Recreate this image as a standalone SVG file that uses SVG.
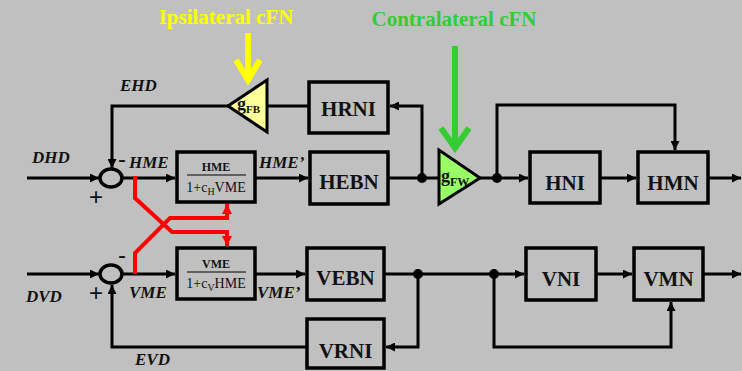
<svg xmlns="http://www.w3.org/2000/svg" width="742" height="371" viewBox="0 0 742 371">
<defs>
<marker id="ah" viewBox="0 0 10 10" refX="10" refY="5" markerWidth="10" markerHeight="9" markerUnits="userSpaceOnUse" orient="auto"><path d="M0,0 L10,5 L0,10 z" fill="#000"/></marker>
<marker id="ahr" viewBox="0 0 10 10" refX="10" refY="5" markerWidth="10" markerHeight="10" markerUnits="userSpaceOnUse" orient="auto"><path d="M0,0 L10,5 L0,10 z" fill="#FF0000"/></marker>
<style>
.bx{fill:#C0C0C0;stroke:#000;stroke-width:3.5}
.bt{font-family:"Liberation Serif",serif;font-weight:bold;font-size:21px;text-anchor:middle;fill:#111}
.lb{font-family:"Liberation Serif",serif;font-weight:bold;font-style:italic;font-size:17px;fill:#111}
.num{font-family:"Liberation Serif",serif;font-weight:bold;font-size:12px;text-anchor:middle;fill:#111}
.den{font-family:"Liberation Serif",serif;font-size:14px;text-anchor:middle;fill:#111}
.sg{font-family:"Liberation Sans",sans-serif;font-size:24px;text-anchor:middle;fill:#111}
.ln{fill:none;stroke:#000;stroke-width:3}
.rd{fill:none;stroke:#FF0000;stroke-width:4}
.ttl{font-family:"Liberation Serif",serif;font-weight:bold;font-size:21px}
</style>
</defs>
<rect x="0" y="0" width="742" height="371" fill="#C0C0C0"/>

<text class="ttl" x="226" y="24" text-anchor="middle" fill="#FFFF00">Ipsilateral cFN</text>
<text class="ttl" x="454" y="26" text-anchor="middle" fill="#33CC33">Contralateral cFN</text>

<g id="connectors">
<path class="ln" d="M27,178 H99" marker-end="url(#ah)"/>
<path class="ln" d="M228,106 H112 V168" marker-end="url(#ah)"/>
<path class="ln" d="M122,178 H175" marker-end="url(#ah)"/>
<path class="ln" d="M255,178 H308" marker-end="url(#ah)"/>
<path class="ln" d="M388,178 H439"/>
<path class="ln" d="M422,178 V106 H390" marker-end="url(#ah)"/>
<path class="ln" d="M309,106 H267"/>
<path class="ln" d="M480,178 H528" marker-end="url(#ah)"/>
<path class="ln" d="M497,178 V105 H675 V150" marker-end="url(#ah)"/>
<path class="ln" d="M600,178 H636" marker-end="url(#ah)"/>
<path class="ln" d="M708,178 H741" marker-end="url(#ah)"/>

<path class="ln" d="M27,274 H99" marker-end="url(#ah)"/>
<path class="ln" d="M122,274 H175" marker-end="url(#ah)"/>
<path class="ln" d="M255,274 H305" marker-end="url(#ah)"/>
<path class="ln" d="M384,274 H524" marker-end="url(#ah)"/>
<path class="ln" d="M418,274 V347 H386" marker-end="url(#ah)"/>
<path class="ln" d="M307,347 H112 V285" marker-end="url(#ah)"/>
<path class="ln" d="M494,274 V347 H671 V302" marker-end="url(#ah)"/>
<path class="ln" d="M596,274 H632" marker-end="url(#ah)"/>
<path class="ln" d="M703,274 H741" marker-end="url(#ah)"/>

<path class="rd" d="M135,176 V198 L172,232 H227 V246" marker-end="url(#ahr)"/>
<path class="rd" d="M135,274 V253 L170,218 H227 V204" marker-end="url(#ahr)"/>

<circle cx="422" cy="178" r="5"/>
<circle cx="497" cy="178" r="5"/>
<circle cx="418" cy="274" r="5"/>
<circle cx="494" cy="274" r="5"/>

<path d="M248,33 V78" fill="none" stroke="#FFFF00" stroke-width="6"/>
<polyline points="236,60 248,80 260,60" fill="none" stroke="#FFFF00" stroke-width="6"/>
<path d="M455,46 V146" fill="none" stroke="#33CC33" stroke-width="6"/>
<polyline points="441,128 455,148 469,128" fill="none" stroke="#33CC33" stroke-width="6"/>
</g>

<g id="sum-h">
<ellipse cx="111" cy="178" rx="11" ry="9" fill="none" stroke="#000" stroke-width="3.5"/>
<text class="sg" x="96" y="205">+</text>
<text class="sg" x="122" y="167">-</text>
</g>
<g id="sum-v">
<ellipse cx="111" cy="274" rx="11" ry="9" fill="none" stroke="#000" stroke-width="3.5"/>
<text class="sg" x="96" y="301">+</text>
<text class="sg" x="122" y="263">-</text>
</g>

<g id="gFB">
<polygon points="267,80 267,132 228,106" fill="#FFFF99" stroke="#000" stroke-width="3"/>
<text font-family="Liberation Serif,serif" font-weight="bold" font-size="18" x="237" y="110" fill="#111">g<tspan font-size="11" dy="3">FB</tspan></text>
</g>
<g id="gFW">
<polygon points="439,150 439,204 480,178" fill="#99FF66" stroke="#000" stroke-width="3"/>
<text font-family="Liberation Serif,serif" font-weight="bold" font-size="18" x="441" y="182" fill="#111">g<tspan font-size="12" dy="4">FW</tspan></text>
</g>

<g id="hme-box">
<rect class="bx" x="177" y="152" width="78" height="50"/>
<text class="num" x="216" y="171">HME</text>
<line x1="187" y1="175" x2="246" y2="175" stroke="#000" stroke-width="1.2"/>
<text class="den" x="216" y="192">1+c<tspan font-size="10" dy="3">H</tspan><tspan dy="-3">VME</tspan></text>
</g>
<g id="vme-box">
<rect class="bx" x="177" y="248" width="78" height="51"/>
<text class="num" x="216" y="268">VME</text>
<line x1="187" y1="272" x2="246" y2="272" stroke="#000" stroke-width="1.2"/>
<text class="den" x="216" y="288">1+c<tspan font-size="10" dy="3">V</tspan><tspan dy="-3">HME</tspan></text>
</g>

<g id="HRNI"><rect class="bx" x="309" y="82" width="79" height="51"/><text class="bt" x="348.5" y="116">HRNI</text></g>
<g id="HEBN"><rect class="bx" x="310" y="152" width="78" height="52"/><text class="bt" x="349" y="189">HEBN</text></g>
<g id="HNI"><rect class="bx" x="530" y="152" width="70" height="51"/><text class="bt" x="565" y="190">HNI</text></g>
<g id="HMN"><rect class="bx" x="638" y="152" width="70" height="51"/><text class="bt" x="673" y="190">HMN</text></g>
<g id="VEBN"><rect class="bx" x="307" y="248" width="77" height="52"/><text class="bt" x="345.5" y="285">VEBN</text></g>
<g id="VRNI"><rect class="bx" x="307" y="319" width="77" height="49"/><text class="bt" x="345.5" y="358">VRNI</text></g>
<g id="VNI"><rect class="bx" x="526" y="248" width="70" height="52"/><text class="bt" x="561" y="286">VNI</text></g>
<g id="VMN"><rect class="bx" x="634" y="248" width="69" height="52"/><text class="bt" x="668.5" y="286">VMN</text></g>

<g id="labels">
<text class="lb" x="32" y="163">DHD</text>
<text class="lb" x="120" y="91">EHD</text>
<text class="lb" x="129" y="168">HME</text>
<text class="lb" x="259" y="168">HME’</text>
<text class="lb" x="26" y="302">DVD</text>
<text class="lb" x="129" y="298">VME</text>
<text class="lb" x="257" y="298">VME’</text>
<text class="lb" x="135" y="365">EVD</text>
</g>
</svg>
